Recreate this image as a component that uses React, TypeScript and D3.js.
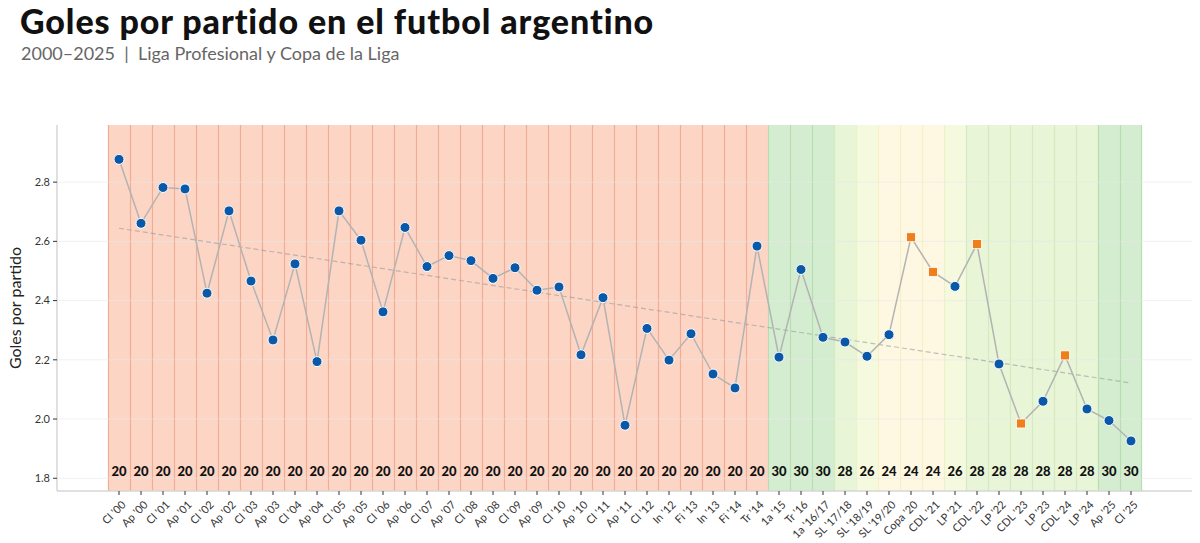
import React from "react";
import * as d3 from "d3";

const labels = [
  "Cl '00","Ap '00","Cl '01","Ap '01","Cl '02","Ap '02","Cl '03","Ap '03","Cl '04","Ap '04",
  "Cl '05","Ap '05","Cl '06","Ap '06","Cl '07","Ap '07","Cl '08","Ap '08","Cl '09","Ap '09",
  "Cl '10","Ap '10","Cl '11","Ap '11","Cl '12","In '12","Fi '13","In '13","Fi '14","Tr '14",
  "1a '15","Tr '16","1a '16/17","SL '17/18","SL '18/19","SL '19/20","Copa '20","CDL '21","LP '21","CDL '22",
  "LP '22","CDL '23","LP '23","CDL '24","LP '24","Ap '25","Cl '25",
];

const goles = [
  2.877,2.661,2.782,2.777,2.425,2.703,2.466,2.267,2.524,2.194,
  2.703,2.604,2.362,2.647,2.515,2.552,2.535,2.475,2.511,2.435,
  2.446,2.217,2.410,1.979,2.306,2.199,2.288,2.152,2.105,2.584,
  2.209,2.505,2.276,2.260,2.212,2.285,2.614,2.497,2.448,2.591,
  2.186,1.985,2.060,2.215,2.034,1.995,1.926,
];

const equipos = [
  20,20,20,20,20,20,20,20,20,20,
  20,20,20,20,20,20,20,20,20,20,
  20,20,20,20,20,20,20,20,20,20,
  30,30,30,28,26,24,24,24,26,28,
  28,28,28,28,28,30,30,
];

const yTicks = [1.8, 2.0, 2.2, 2.4, 2.6, 2.8];

const fillByTeams: Record<number, string> = {
  20: "#fcd5c5",
  24: "#fef8e2",
  26: "#f5f9de",
  28: "#e8f5d6",
  30: "#d4edd0",
};
const strokeByTeams: Record<number, string> = {
  20: "#f2ab94",
  24: "#f8eec8",
  26: "#ebf1c8",
  28: "#d5eac2",
  30: "#b9dcb2",
};

const FONT = "Lato, 'Noto Sans', sans-serif";

export default function App() {
  const W = 1200, H = 543;
  const panel = { left: 57, right: 1192, top: 125, bottom: 491 };

  const x = d3.scaleBand<string>().domain(labels).range([108, 1142]).padding(0);
  const y = d3.scaleLinear().domain([1.757, 2.993]).range([panel.bottom, panel.top]);
  const cx = (i: number) => (x(labels[i]) as number) + x.bandwidth() / 2;

  // linear regression trend
  const idx = goles.map((_, i) => i);
  const mx = d3.mean(idx) as number;
  const my = d3.mean(goles) as number;
  const slope =
    d3.sum(idx, (i) => (i - mx) * (goles[i] - my)) / d3.sum(idx, (i) => (i - mx) * (i - mx));
  const intercept = my - slope * mx;
  const n = goles.length;

  const line = d3
    .line<number>()
    .x((_, i) => cx(i))
    .y((d) => y(d));

  const isCopa = (l: string) => l.startsWith("CDL") || l.startsWith("Copa");

  return (
    <svg
      width={W}
      height={H}
      style={{ position: "absolute", left: 0, top: 0, background: "#fff" }}
      fontFamily={FONT}
    >
      {/* title */}
      <text x={20} y={34} fontSize={34} fontWeight={900} fill="#111" letterSpacing={0.9}>
        Goles por partido en el futbol argentino
      </text>
      <text x={21} y={60} fontSize={18} fill="#666" style={{ whiteSpace: "pre" }}>
        {"2000–2025  |  Liga Profesional y Copa de la Liga"}
      </text>

      {/* bands */}
      {labels.map((l, i) => (
        <rect
          key={"b" + i}
          x={x(l)}
          y={panel.top}
          width={x.bandwidth()}
          height={panel.bottom - panel.top}
          fill={fillByTeams[equipos[i]]}
        />
      ))}
      {labels.map((l, i) => (
        <g key={"bl" + i}>
          <line
            x1={(x(l) as number) + 0.5}
            x2={(x(l) as number) + 0.5}
            y1={panel.top}
            y2={panel.bottom}
            stroke={strokeByTeams[equipos[i]]}
            strokeWidth={1.2}
          />
          {i === n - 1 && (
            <line
              x1={(x(l) as number) + x.bandwidth() - 0.5}
              x2={(x(l) as number) + x.bandwidth() - 0.5}
              y1={panel.top}
              y2={panel.bottom}
              stroke={strokeByTeams[equipos[i]]}
              strokeWidth={1.2}
            />
          )}
        </g>
      ))}

      {/* gridlines */}
      {yTicks.map((t) => (
        <line
          key={"g" + t}
          x1={panel.left}
          x2={panel.right}
          y1={y(t)}
          y2={y(t)}
          stroke="#e8e8e8"
          strokeOpacity={0.6}
          strokeWidth={1}
        />
      ))}

      {/* axes */}
      <line x1={panel.left} x2={panel.left} y1={panel.top} y2={panel.bottom} stroke="#d6d6d6" strokeWidth={1.5} />
      <line x1={panel.left} x2={panel.right} y1={panel.bottom} y2={panel.bottom} stroke="#d6d6d6" strokeWidth={1.5} />

      {yTicks.map((t) => (
        <g key={"yt" + t}>
          <line x1={panel.left - 4} x2={panel.left} y1={y(t)} y2={y(t)} stroke="#333" strokeWidth={1} />
          <text x={panel.left - 7} y={y(t)} dy="0.35em" textAnchor="end" fontSize={11} fill="#333">
            {t.toFixed(1)}
          </text>
        </g>
      ))}
      <text
        transform={`translate(15, ${(panel.top + panel.bottom) / 2}) rotate(-90)`}
        textAnchor="middle"
        dy="0.35em"
        fontSize={16}
        fill="#222"
      >
        Goles por partido
      </text>

      {labels.map((l, i) => (
        <g key={"xt" + i}>
          <line x1={cx(i)} x2={cx(i)} y1={panel.bottom} y2={panel.bottom + 4} stroke="#333" strokeWidth={1} />
          <text
            transform={`translate(${cx(i) + 2}, ${panel.bottom + 9}) rotate(-45)`}
            textAnchor="end"
            dy="0.7em"
            fontSize={11}
            fill="#333"
          >
            {l}
          </text>
        </g>
      ))}

      {/* trend line */}
      <line
        x1={cx(0)}
        x2={cx(n - 1)}
        y1={y(intercept)}
        y2={y(intercept + slope * (n - 1))}
        stroke="#9a9a9a"
        strokeOpacity={0.6}
        strokeWidth={1.2}
        strokeDasharray="5,3"
      />

      {/* connecting line */}
      <path d={line(goles) as string} fill="none" stroke="#b3b3b3" strokeWidth={1.5} />

      {/* points */}
      {goles.map((g, i) =>
        isCopa(labels[i]) ? (
          <rect
            key={"p" + i}
            x={cx(i) - 4.5}
            y={y(g) - 4.5}
            width={9}
            height={9}
            fill="#ee7f1b"
            stroke="#fff"
            strokeWidth={0.8}
          />
        ) : (
          <circle key={"p" + i} cx={cx(i)} cy={y(g)} r={5} fill="#0a58a8" stroke="#fff" strokeWidth={1} />
        )
      )}

      {/* team counts */}
      {equipos.map((e, i) => (
        <text
          key={"e" + i}
          x={cx(i)}
          y={y(1.822)}
          dy="0.35em"
          textAnchor="middle"
          fontSize={13}
          fontWeight={900}
          fill="#111"
        >
          {e}
        </text>
      ))}
    </svg>
  );
}
